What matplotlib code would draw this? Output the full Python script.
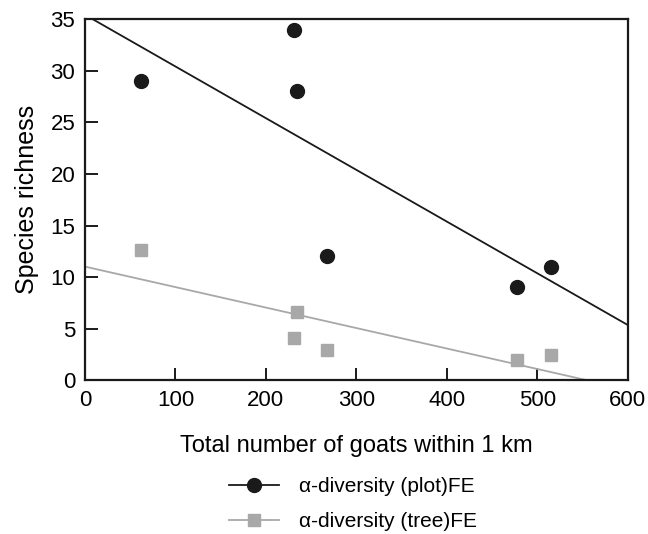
import numpy as np
import matplotlib
matplotlib.use("Agg")
import matplotlib.pyplot as plt

plt.rcParams['font.family'] = ['Liberation Sans', 'DejaVu Sans']

# geiter innen 1 km og artsrikdom
goats = [62, 231, 234, 267, 478, 515]
plot_richness = [29, 34, 28, 12, 9, 11]
tree_goats = [62, 231, 234, 267, 478, 515]
tree_richness = [12.6, 4.1, 6.6, 2.9, 2.0, 2.4]

xticks = [0, 100, 200, 300, 400, 500, 600]
yticks = [0, 5, 10, 15, 20, 25, 30, 35]

grey = "#a8a8a8"
dark = "#1a1a1a"

fig = plt.figure(figsize=(6.48, 5.34), dpi=100)
ax = fig.add_axes([0.131, 0.288, 0.838, 0.676])

# regresjonslinjer
xs = np.array([0, 600])
b1 = np.polyfit(goats, plot_richness, 1)
b2 = np.polyfit(tree_goats, tree_richness, 1)
ax.plot(xs, np.polyval(b1, xs), color=dark, lw=1.3)
ax.plot(xs, np.polyval(b2, xs), color=grey, lw=1.3)

ax.plot(goats, plot_richness, "o", color=dark, ms=10)
ax.plot(tree_goats, tree_richness, "s", color=grey, ms=8)

ax.set_xlim(0, 600)
ax.set_ylim(0, 35)
ax.set_xticks(xticks)
ax.set_yticks(yticks)
ax.tick_params(direction="in", length=9, width=1.4, color=dark,
               labelsize=16, pad=7)
ax.tick_params(top=False, right=False)
for s in ax.spines.values():
    s.set_linewidth(1.6)
    s.set_color(dark)

ax.set_xlabel("Total number of goats within 1 km", fontsize=17, labelpad=17)
ax.set_ylabel("Species richness", fontsize=18, labelpad=8)

h1, = ax.plot([], [], "-o", color=dark, ms=10, lw=1.3)
h2, = ax.plot([], [], "-s", color=grey, ms=8, lw=1.3)
fig.legend([h1, h2], ["α-diversity (plot)FE", "α-diversity (tree)FE"],
           loc="center", bbox_to_anchor=(0.545, 0.056), frameon=False,
           fontsize=15, handlelength=2.4, labelspacing=0.75, handletextpad=0.95)

fig.savefig("out.png", dpi=100)
